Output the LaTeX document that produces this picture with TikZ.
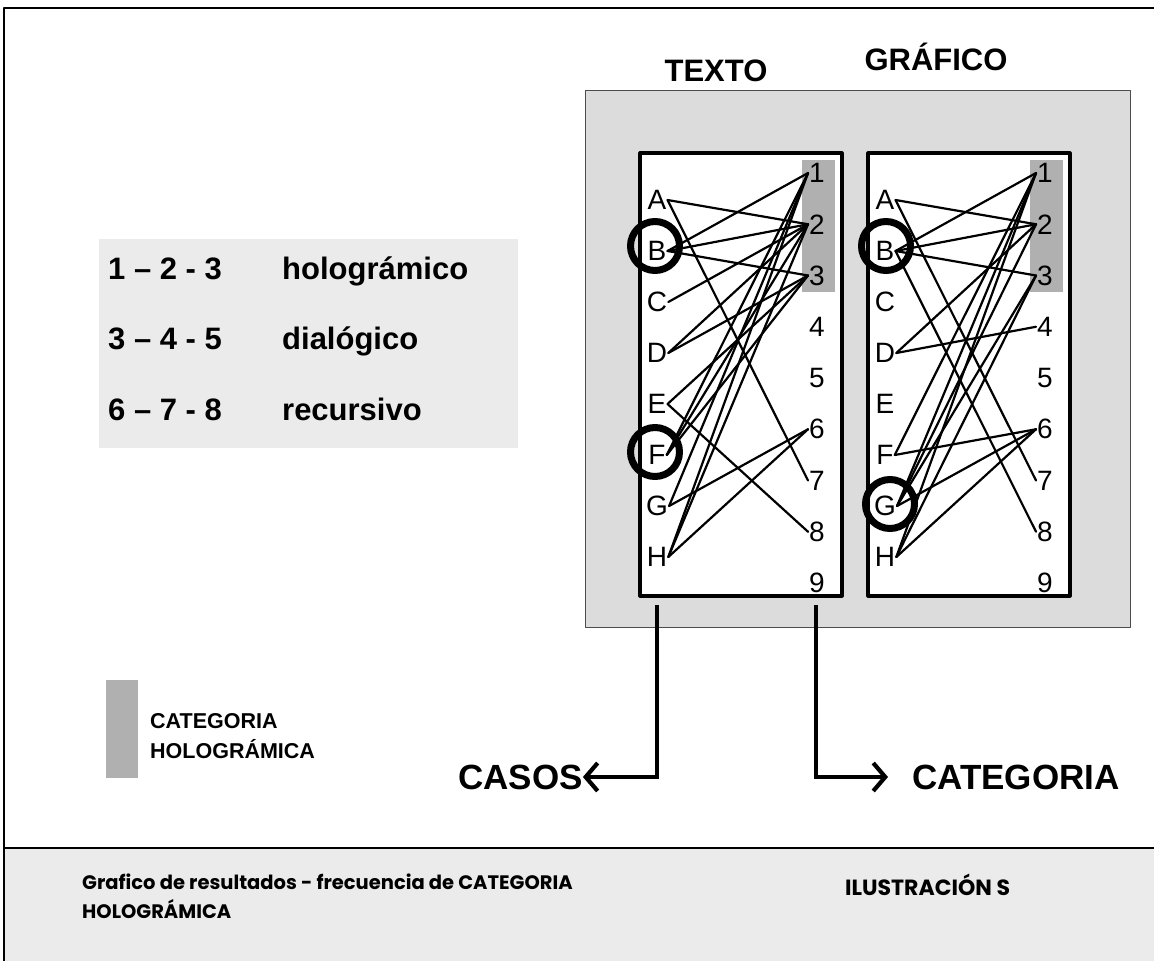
\documentclass[tikz,border=0pt]{standalone}
\usepackage{fontspec}
\setmainfont{Liberation Sans}
\newfontfamily\gothicfont{Poppins}
\usetikzlibrary{arrows.meta}

\definecolor{panelgray}{HTML}{DCDCDC}
\definecolor{holo}{HTML}{B0B0B0}
\definecolor{bandgray}{HTML}{EBEBEB}

\newcommand{\ColumnLabels}[1]{%
  \foreach \L [count=\i from 0] in {A,...,H} {
    \node[letlab] (#1\L) at (657,200+51*\i) {\L};
  }
  \foreach \k in {1,...,9} {
    \node[numlab] (#1n\k) at (817,173+51.25*\k-51.25) {\k};
  }
}

\begin{document}
\begin{tikzpicture}[
    x=1pt,y=-1pt,
    line cap=round,
    line join=round,
    panelbox/.style={fill=panelgray, draw=gray!60!black, line width=0.9pt},
    colbox/.style={fill=white, draw=black, line width=3.2pt},
    holoband/.style={fill=holo, draw=none},
    letlab/.style={font=\fontsize{28}{28}\selectfont, inner sep=1pt},
    numlab/.style={font=\fontsize{28}{28}\selectfont, inner sep=1pt},
    link/.style={draw=black, line width=2.2pt},
    ringmark/.style={circle, draw=black, line width=7pt, minimum size=49pt, inner sep=0pt},
    coltitle/.style={font=\bfseries\fontsize{31}{31}\selectfont, inner sep=0pt},
    legtext/.style={font=\bfseries\fontsize{31}{31}\selectfont, anchor=base west, inner sep=0pt},
    bigword/.style={font=\bfseries\fontsize{35}{35}\selectfont, anchor=west, inner sep=0pt},
    pointer/.style={draw=black, line width=4.5pt, line cap=butt, line join=miter,
        -{Straight Barb[length=12pt,width=28pt,line width=4.2pt]}},
    foottext/.style={font=\gothicfont\bfseries\fontsize{19.5}{29}\selectfont, anchor=north west, inner sep=0pt, align=left}
]
\useasboundingbox (0,0) rectangle (1154,961);

% frame and footer band
\fill[white] (0,0) rectangle (1154,961);
\fill[bandgray] (4,848) rectangle (1154,961);
\draw[line width=2pt] (1154,848) -- (4,848);
\draw[line width=1.6pt] (4,961) -- (4,8) -- (1154,8);

% column titles
\node[coltitle] (ttitle) at (716,71) {TEXTO};
\node[coltitle] (gtitle) at (936,57) {GRÁFICO};

% grey panel with the two columns
\draw[panelbox] (585,90) rectangle (1130,627);
\draw[colbox] (640,153) rectangle (842,596);
\draw[colbox] (868,153) rectangle (1070,596);
\fill[holoband] (802,160) rectangle (835,292);
\fill[holoband] (1030,160) rectangle (1063,292);

\ColumnLabels{t}
\begin{scope}[shift={(228,0)}]
    \ColumnLabels{g}
\end{scope}

% TEXTO links
\foreach \a/\n in {A/2,A/7,B/1,B/2,B/3,C/2,D/2,D/3,E/3,E/8,
                   F/1,F/2,F/3,G/1,G/6,H/1,H/2,H/6} {
    \draw[link] (t\a.east) -- (tn\n.west);
}

% GRAFICO links
\foreach \a/\n in {A/2,A/7,B/1,B/2,B/3,B/8,D/2,D/4,F/1,F/6,
                   G/1,G/2,G/3,G/6,H/1,H/3,H/6} {
    \draw[link] (g\a.east) -- (gn\n.west);
}

\node[ringmark] (tring1) at (655,246) {};
\node[ringmark] (tring2) at (655,452) {};
\node[ringmark] (gring1) at (886,246) {};
\node[ringmark] (gring2) at (890,504) {};

% legend
\fill[bandgray] (99,239) rectangle (518,448);
\foreach \r/\txt/\nm [count=\j from 0] in {{1 – 2 - 3}/holográmico/holo,
                                          {3 – 4 - 5}/dialógico/dial,
                                          {6 – 7 - 8}/recursivo/recu} {
    \node[legtext] (\nm num) at (108,279+70.5*\j) {\r};
    \node[legtext] (\nm txt) at (282,279+70.5*\j) {\txt};
}

\fill[holo] (106,680) rectangle (138,778);
\node[font=\bfseries\fontsize{21.5}{30}\selectfont, anchor=north west, align=left, inner sep=0pt]
    (swatchlab) at (150,713) {CATEGORIA\\HOLOGRÁMICA};

% pointers to the axes
\node[bigword] (casos) at (458,777) {CASOS};
\node[bigword] (categ) at (912,777) {CATEGORIA};
\coordinate (castop) at (657,605);
\coordinate (cattop) at (816,605);
\draw[pointer] (castop) |- (casos.east);
\draw[pointer, shorten >=24pt] (cattop) |- (categ.west);

% footer
\node[foottext] (caption) at (82,874) {Grafico de resultados - frecuencia de CATEGORIA\\HOLOGRÁMICA};
\node[foottext, font=\gothicfont\bfseries\fontsize{22}{22}\selectfont] (illus) at (845,874) {ILUSTRACIÓN S};
\end{tikzpicture}
\end{document}
